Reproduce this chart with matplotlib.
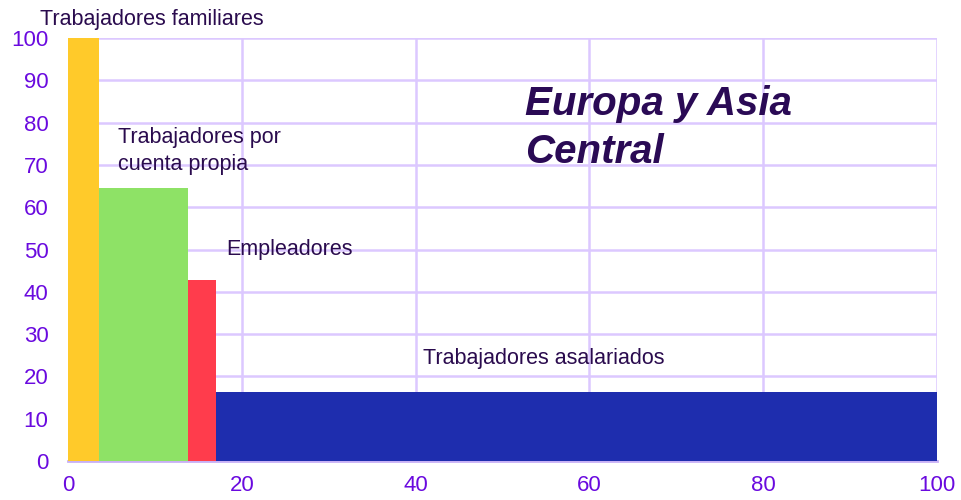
import matplotlib.pyplot as plt

# category widths (share of employment, %) and heights (% in vulnerable/poor)
categories = ["Trabajadores familiares", "Trabajadores por\ncuenta propia",
              "Empleadores", "Trabajadores asalariados"]
widths = [3.6, 10.2, 3.2, 83.0]
heights = [100.0, 64.6, 42.8, 16.3]
colors = ["#FFCA2A", "#8EE266", "#FF3C4C", "#1E2DAE"]

x_ticks = [0, 20, 40, 60, 80, 100]
y_ticks = [0, 10, 20, 30, 40, 50, 60, 70, 80, 90, 100]

plt.rcParams["font.family"] = ["Liberation Sans", "DejaVu Sans"]

fig = plt.figure(figsize=(9.61, 5), dpi=100)
ax = fig.add_axes([0.0708, 0.078, 0.9042, 0.846])

lefts = [sum(widths[:i]) for i in range(len(widths))]
ax.bar(lefts, heights, width=widths, align="edge", color=colors, zorder=3)

ax.set_xlim(0, 100)
ax.set_ylim(0, 100)
ax.set_xticks(x_ticks)
ax.set_yticks(y_ticks)
ax.grid(True, color="#DCC8FF", lw=1.8, zorder=0)
ax.tick_params(length=0, labelsize=16, labelcolor="#6A0ADF")
ax.tick_params(axis="x", pad=10)
ax.tick_params(axis="y", pad=14)
for s in ["left", "top", "right"]:
    ax.spines[s].set_visible(False)
ax.spines["bottom"].set_color("#C8B0F5")
ax.spines["bottom"].set_linewidth(2)

txt = "#2A0B4E"
ax.text(-3.2, 104.3, categories[0], fontsize=15.5, color=txt, va="center", clip_on=False)
ax.text(5.75, 73.3, categories[1], fontsize=15.5, color=txt, va="center", linespacing=1.4)
ax.text(18.2, 49.9, categories[2], fontsize=15.5, color=txt, va="center")
ax.text(40.9, 24.3, categories[3], fontsize=15.5, color=txt, va="center")

ax.text(52.6, 78.7, "Europa y Asia\nCentral", fontsize=29, color="#2A0A55",
        fontweight="bold", fontstyle="italic", va="center", linespacing=1.35)

plt.savefig("out.png", dpi=100)
